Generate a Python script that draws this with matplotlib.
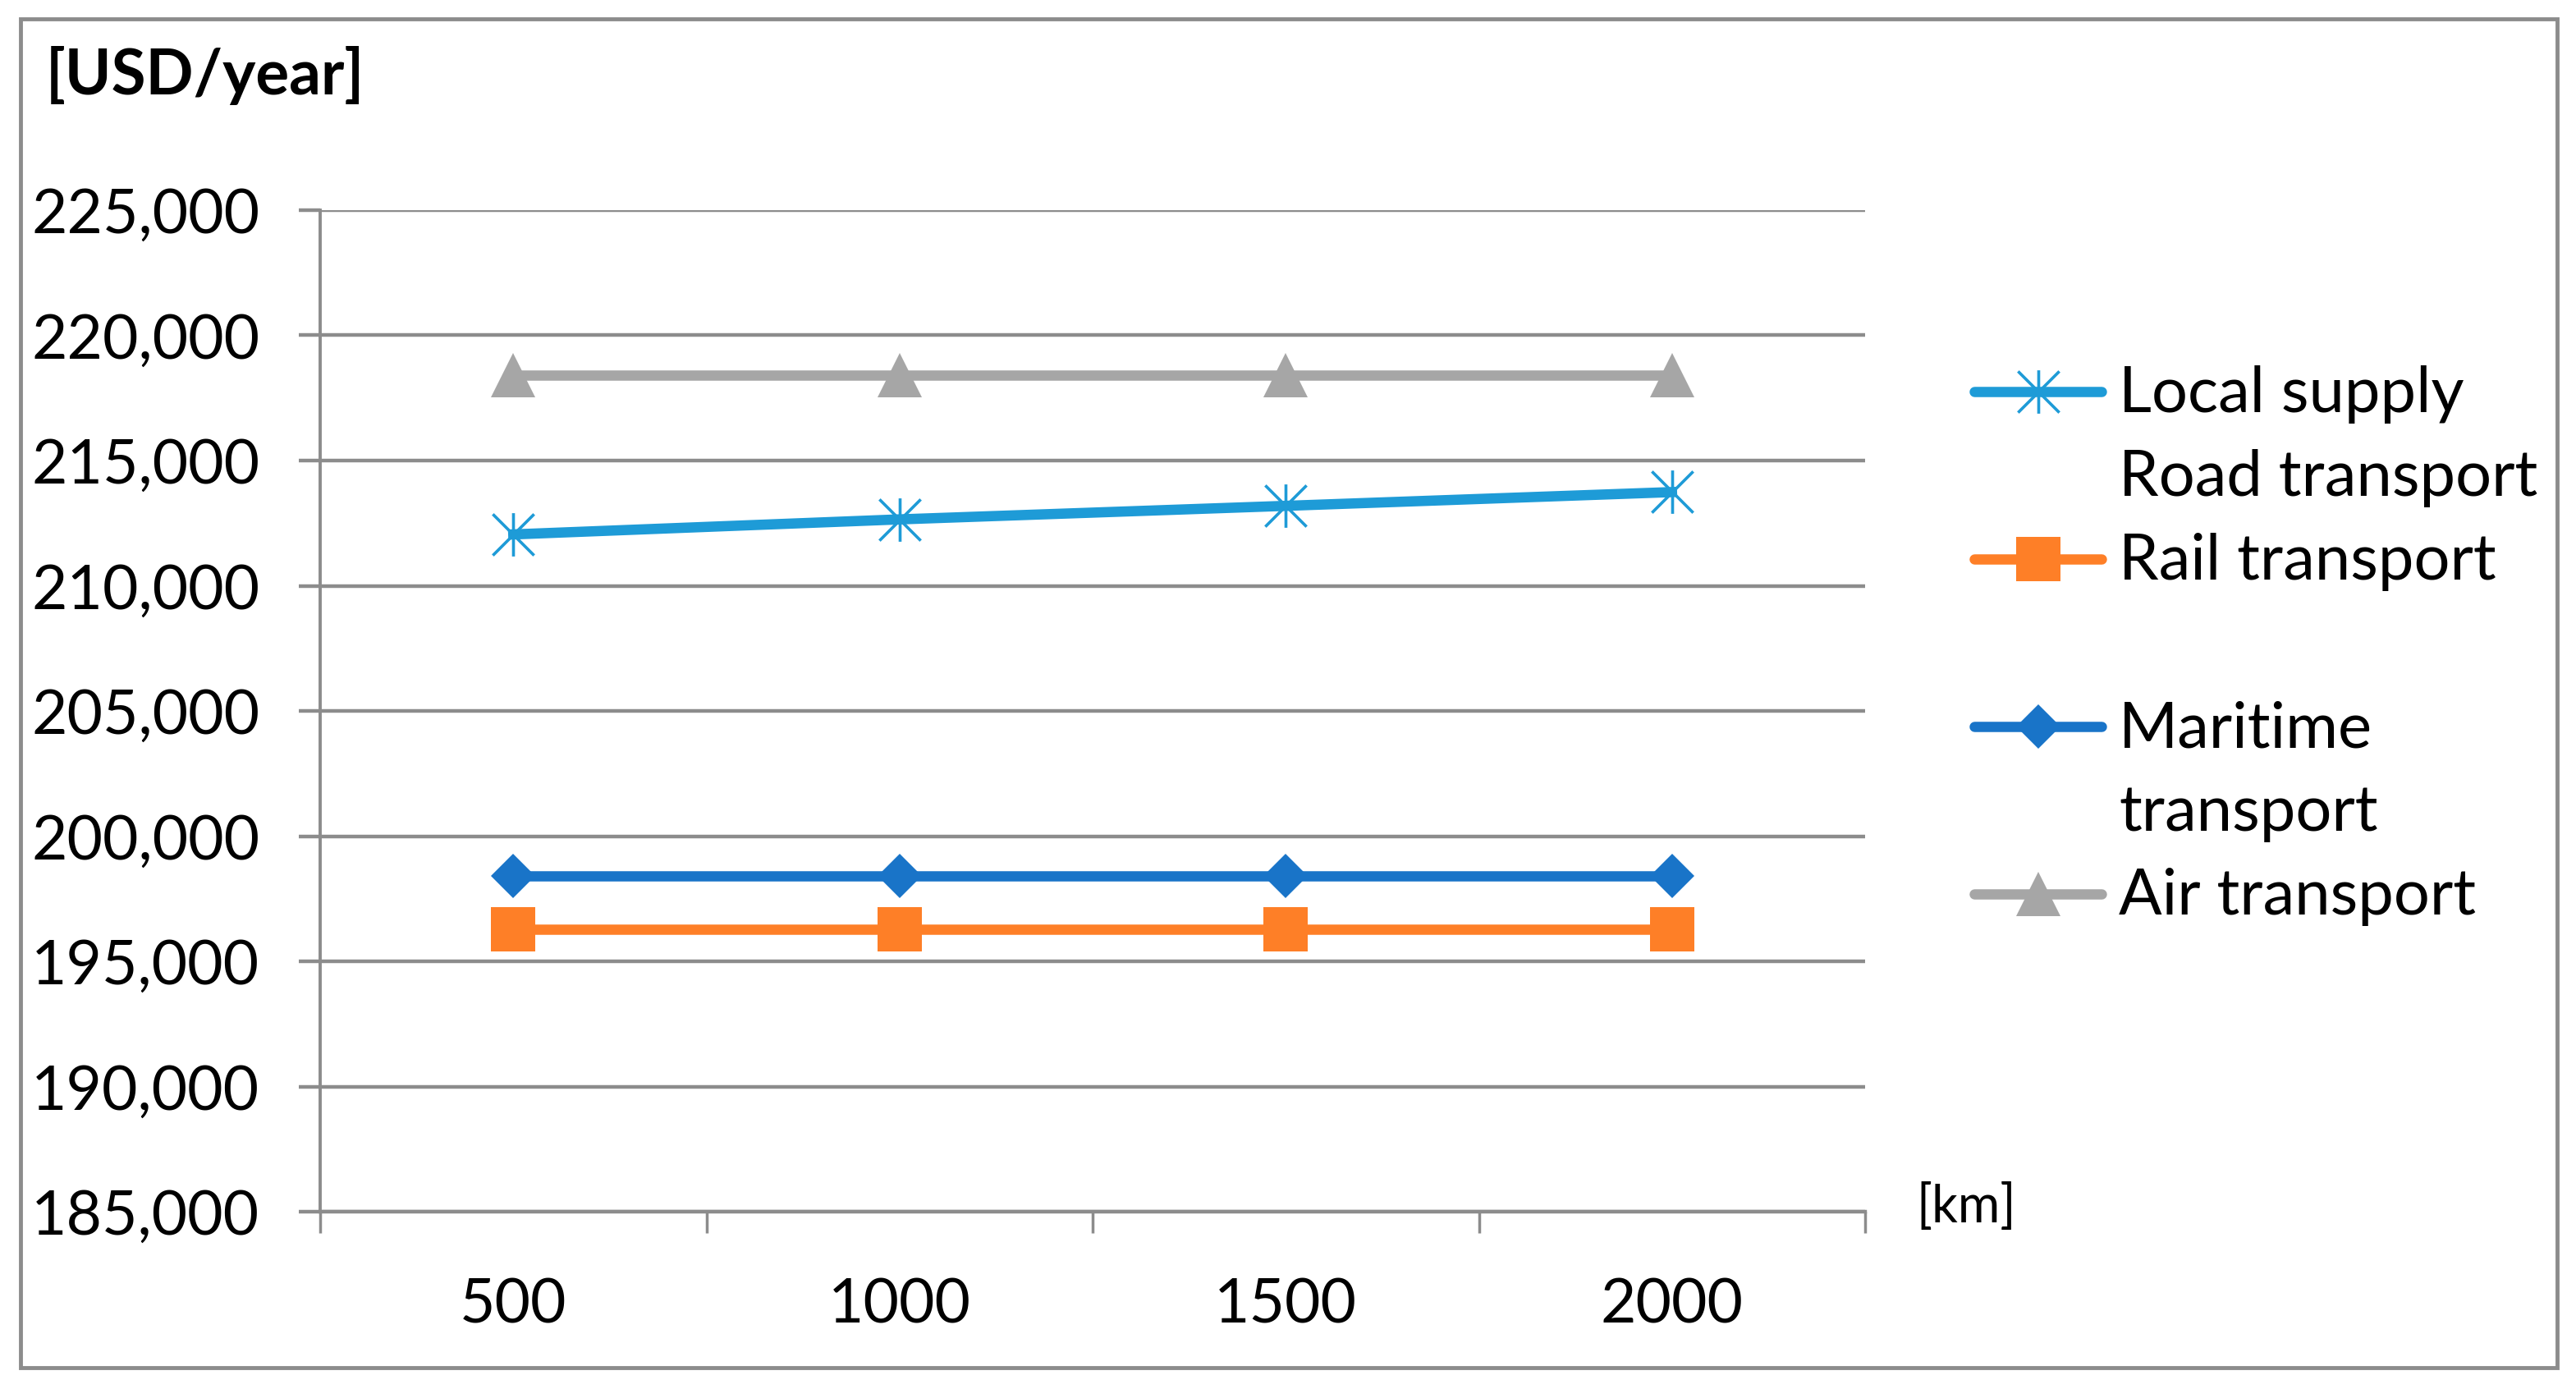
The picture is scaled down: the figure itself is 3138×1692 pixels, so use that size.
import numpy as np
import matplotlib
matplotlib.use('Agg')
from matplotlib import pyplot as plt
from matplotlib.path import Path
from matplotlib.lines import Line2D
from matplotlib.patches import Rectangle
from matplotlib.ticker import FuncFormatter

plt.rcParams['font.family'] = ['Lato', 'DejaVu Sans']

# data
distances = ['500', '1000', '1500', '2000']
local_road = [212050, 212650, 213190, 213740]
rail = [196280, 196280, 196280, 196280]
maritime = [198420, 198420, 198420, 198420]
air = [218400, 218400, 218400, 218400]

W, H = 3138, 1692
GRID = '#8c8c8c'
C_LOCAL = '#1e9bd7'
C_RAIL = '#fe7f27'
C_MAR = '#1974c8'
C_AIR = '#a6a6a6'
FS = 54
FS_LEG = 56

# Excel style asterisk marker: vertical bar + X
star = Path([(-1, -1), (1, 1), (-1, 1), (1, -1), (0, -1.05), (0, 1.05)],
            [Path.MOVETO, Path.LINETO, Path.MOVETO, Path.LINETO, Path.MOVETO, Path.LINETO])

def fx(px):
    return px / W

def fy(py):
    return 1 - py / H

fig = plt.figure(figsize=(W / 100, H / 100), dpi=100)
ax = fig.add_axes([fx(390), fy(1476), fx(2272) - fx(390), fy(256) - fy(1476)])

x = np.arange(len(distances))
lw = 9
ax.plot(x, local_road, color=C_LOCAL, lw=lw, marker=star, ms=38, mew=2.6,
        mec=C_LOCAL, mfc='none', zorder=3)
ax.plot(x, rail, color=C_RAIL, lw=lw, marker='s', ms=39, mec=C_RAIL, mew=0, zorder=3)
ax.plot(x, maritime, color=C_MAR, lw=lw, marker='D', ms=28, mec=C_MAR, mew=0, zorder=3)
ax.plot(x, air, color=C_AIR, lw=lw, marker='^', ms=39, mec=C_AIR, mew=0, zorder=3)

ax.set_xlim(-0.5, len(distances) - 0.5)
ax.set_ylim(185000, 225000)
ax.set_yticks(np.arange(185000, 225001, 5000))
ax.yaxis.set_major_formatter(FuncFormatter(lambda v, p: f'{v:,.0f}'))
ax.grid(axis='y', color=GRID, lw=3.2, zorder=0)
ax.set_axisbelow(True)

ax.set_xticks(np.arange(-0.5, len(distances), 1.0))
ax.set_xticklabels([])
ax.set_xticks(x, minor=True)
ax.set_xticklabels(distances, minor=True)

for s in ['top', 'right']:
    ax.spines[s].set_visible(False)
for s in ['left', 'bottom']:
    ax.spines[s].set_color(GRID)
ax.spines['left'].set_linewidth(2.8)
ax.spines['bottom'].set_linewidth(3.2)

ax.tick_params(axis='y', length=19, width=3.2, color=GRID, pad=34, labelsize=FS)
ax.tick_params(axis='x', which='major', length=19, width=2.5, color=GRID)
ax.tick_params(axis='x', which='minor', length=0, pad=57, labelsize=FS)

# titles
fig.text(fx(56), fy(92), '[USD/year]', fontsize=55, fontweight='bold', va='center', ha='left')
fig.text(fx(2334), fy(1470), '[km]', fontsize=45, va='center', ha='left')

# manual legend (Excel keeps a two-line slot per entry)
entries = [
    (['Local supply', 'Road transport'], C_LOCAL, dict(marker=star, ms=38, mew=2.6, mfc='none')),
    (['Rail transport'], C_RAIL, dict(marker='s', ms=39, mew=0)),
    (['Maritime', 'transport'], C_MAR, dict(marker='D', ms=28, mew=0)),
    (['Air transport'], C_AIR, dict(marker='^', ms=39, mew=0)),
]
y0, slot, line_gap = 477, 204, 102
for i, (lines, col, mk) in enumerate(entries):
    yc = y0 + i * slot
    fig.add_artist(Line2D([fx(2405), fx(2560)], [fy(yc), fy(yc)], color=col, lw=lw,
                          solid_capstyle='round'))
    fig.add_artist(Line2D([fx(2483)], [fy(yc)], color=col, mec=col, ls='none', **mk))
    for j, t in enumerate(lines):
        fig.text(fx(2581), fy(yc + 25 + j * line_gap), t, fontsize=FS_LEG, va='baseline', ha='left')

# chart border
fig.patches.append(Rectangle((fx(25), fy(1666)), fx(3115) - fx(25), fy(23) - fy(1666),
                             transform=fig.transFigure, fill=False, ec=GRID, lw=3.5))

fig.savefig('out.png', dpi=100)
